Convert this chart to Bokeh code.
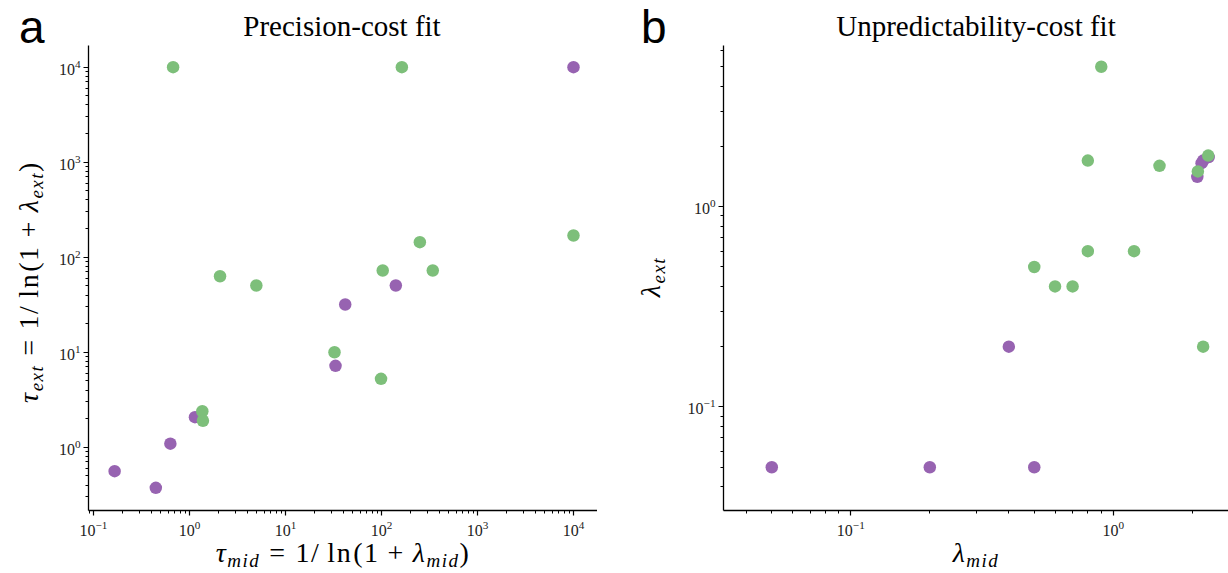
from bokeh.plotting import figure
from bokeh.models import Range1d, FixedTicker, Div
from bokeh.layouts import row, column
from bokeh.embed import file_html
from bokeh.resources import INLINE

# ---------------- data ----------------
# Panel a: precision-cost fit (tau values)
purple_tau_mid = [0.166, 0.446, 0.632, 1.14, 33.2, 41.9, 141, 10000]
purple_tau_ext = [0.56, 0.374, 1.09, 2.07, 7.19, 31.8, 50.4, 10000]
green_tau_mid = [0.675, 163, 1.36, 1.38, 2.08, 4.97, 32.4, 98.9, 103, 251, 342, 10000]
green_tau_ext = [10000, 10000, 2.39, 1.90, 63, 50.4, 10.0, 5.25, 72.4, 144, 72.4, 169]

# Panel b: unpredictability-cost fit (lambda values)
purple_lam_mid = [0.05, 0.2, 0.5, 0.4, 2.09, 2.17, 2.2, 2.31]
purple_lam_ext = [0.05, 0.05, 0.05, 0.2, 1.41, 1.65, 1.7, 1.77]
green_lam_mid = [0.9, 0.8, 1.5, 2.1, 2.3, 0.8, 1.2, 0.5, 0.6, 0.7, 2.2]
green_lam_ext = [5.0, 1.7, 1.6, 1.5, 1.8, 0.6, 0.6, 0.5, 0.4, 0.4, 0.2]

a_x_ticks = [0.1, 1, 10, 100, 1000, 10000]
a_y_ticks = [1, 10, 100, 1000, 10000]
b_ticks = [0.1, 1]

titles = ["Precision-cost fit", "Unpredictability-cost fit"]
panel_letters = ["a", "b"]

PURPLE = "#9763b1"
GREEN = "#7dbf7a"

H = 573
TOP_H = 45
FRAME_H = 465
BOTTOM_B = 33
FIG_H = FRAME_H + BOTTOM_B
LOWER_H = H - TOP_H - FIG_H
SERIF = "Liberation Serif"
SER_R = 0.8375    # Liberation Serif baseline (em) in a line-height:1 box
SANS_R = 0.8465   # Liberation Sans baseline (em) in a line-height:1 box
MAIN, SUB = 28, 19

LEFT_A_W = 50
FIG_A_W = 38 + 509
LEFT_B_W = 678 - (LEFT_A_W + FIG_A_W)
FIG_B_W = 45 + 505
XA0 = LEFT_A_W
XLB0 = LEFT_A_W + FIG_A_W
XB0 = XLB0 + LEFT_B_W


def minor_list(lo_exp, hi_exp):
    out = []
    for e in range(lo_exp, hi_exp + 1):
        for k in range(2, 10):
            out.append(k * 10.0 ** e)
    return out


def style_axes(p):
    p.outline_line_color = None
    p.xgrid.visible = False
    p.ygrid.visible = False
    p.background_fill_color = "white"
    p.border_fill_color = "white"
    for ax in p.axis:
        ax.axis_line_color = "black"
        ax.axis_line_width = 1.3
        ax.major_tick_line_color = "black"
        ax.major_tick_line_width = 1.2
        ax.minor_tick_line_color = "black"
        ax.minor_tick_line_width = 1.0
        ax.major_tick_in = 0
        ax.major_tick_out = 5
        ax.minor_tick_in = 0
        ax.minor_tick_out = 3
        ax.major_label_text_font = SERIF
        ax.major_label_text_font_size = "16px"
        ax.major_label_text_color = "#222222"
    p.xaxis.major_label_standoff = 5
    p.yaxis.major_label_standoff = 3


def piece(html, x, baseline, size, italic=False, font=SERIF, ratio=SER_R,
          center=False, extra=""):
    top = baseline - ratio * size
    st = "italic" if italic else "normal"
    tr = "transform:translateX(-50%);" if center else ""
    return (f'<span style="position:absolute;left:{x:.1f}px;top:{top:.1f}px;'
            f"font-family:'{font}';font-size:{size}px;font-style:{st};"
            f'line-height:1;white-space:nowrap;color:#000;{tr}{extra}">{html}</span>')


def box(w, h, inner):
    return f'<div style="position:relative;width:{w}px;height:{h}px;">{inner}</div>'


def rotated(w, h, inner):
    # child coords: x = distance upward from the bottom edge, y = distance from left edge
    return (f'<div style="position:absolute;left:0;top:0;width:{h}px;height:{w}px;'
            f'transform-origin:0 0;transform:translate(0px,{h}px) rotate(-90deg);">'
            f'{inner}</div>')


def mk_div(html, w, h):
    return Div(text=html, width=w, height=h, margin=(0, 0, 0, 0))


def it(s):
    return f'<span style="font-style:italic;">{s}</span>'


def sub(s):
    return (f'<span style="font-size:{SUB}px;font-style:italic;position:relative;'
            f'top:5px;">{s}</span>')


def sp(px):
    return f'<span style="display:inline-block;width:{px}px;height:0;"></span>'


def var(sym, s):
    return it(sym) + sub(s)


def tau_label(s):
    return (var("\u03c4", s) + sp(9) + "=" + sp(9) + "1/" + sp(7) + "ln" + sp(1)
            + "(1" + sp(8) + "+" + sp(8) + var("\u03bb", s) + ")")


LS = "letter-spacing:1.5px;"

# ---------------- panel a ----------------
pa = figure(frame_width=509, frame_height=FRAME_H,
            x_axis_type="log", y_axis_type="log",
            x_range=Range1d(10 ** -1.052, 10 ** 4.25),
            y_range=Range1d(10 ** -0.666, 10 ** 4.228),
            min_border_left=38, min_border_right=0,
            min_border_top=0, min_border_bottom=BOTTOM_B,
            toolbar_location=None, output_backend="svg", title=None,
            title_location=None)
pa.xaxis.ticker = FixedTicker(ticks=a_x_ticks, minor_ticks=minor_list(-2, 4))
pa.yaxis.ticker = FixedTicker(ticks=a_y_ticks, minor_ticks=minor_list(-1, 4))
style_axes(pa)
pa.scatter(purple_tau_mid, purple_tau_ext, size=12.5, fill_color=PURPLE, line_color=None)
pa.scatter(green_tau_mid, green_tau_ext, size=12.5, fill_color=GREEN, line_color=None)

# ---------------- panel b ----------------
pb = figure(frame_width=505, frame_height=FRAME_H,
            x_axis_type="log", y_axis_type="log",
            x_range=Range1d(10 ** -1.485, 10 ** 0.439),
            y_range=Range1d(10 ** -1.517, 10 ** 0.805),
            min_border_left=45, min_border_right=0,
            min_border_top=0, min_border_bottom=BOTTOM_B,
            toolbar_location=None, output_backend="svg", title=None,
            title_location=None)
pb.xaxis.ticker = FixedTicker(ticks=b_ticks, minor_ticks=minor_list(-2, 0))
pb.yaxis.ticker = FixedTicker(ticks=b_ticks, minor_ticks=minor_list(-2, 0))
style_axes(pb)
pb.scatter(purple_lam_mid, purple_lam_ext, size=12.5, fill_color=PURPLE, line_color=None)
pb.scatter(green_lam_mid, green_lam_ext, size=12.5, fill_color=GREEN, line_color=None)

# ---------------- texts (HTML, real text) ----------------
left_a_html = box(LEFT_A_W, H,
                  piece(panel_letters[0], 19, 43, 46, font="Liberation Sans", ratio=SANS_R)
                  + rotated(LEFT_A_W, H,
                            piece(tau_label("ext"), H - 282, 38, MAIN, center=True, extra=LS)))

left_b_html = box(LEFT_B_W, H,
                  piece(panel_letters[1], 641 - XLB0, 43, 46, font="Liberation Sans", ratio=SANS_R)
                  + rotated(LEFT_B_W, H,
                            piece(var("\u03bb", "ext"), H - 277, 660 - XLB0, MAIN,
                                  center=True, extra=LS)))

title_a_html = box(FIG_A_W, TOP_H, piece(titles[0], 342 - XA0, 36, 29, center=True))
title_b_html = box(FIG_B_W, TOP_H, piece(titles[1], 976 - XB0, 36, 29, center=True))

oy = TOP_H + FIG_H
XBL = 562 - oy
xlab_a_html = box(FIG_A_W, LOWER_H,
                  piece(tau_label("mid"), 343 - XA0, XBL, MAIN, center=True, extra=LS))
xlab_b_html = box(FIG_B_W, LOWER_H,
                  piece(var("\u03bb", "mid"), 976 - XB0, XBL, MAIN, center=True, extra=LS))

col_a = column(mk_div(title_a_html, FIG_A_W, TOP_H), pa,
               mk_div(xlab_a_html, FIG_A_W, LOWER_H), spacing=0)
col_b = column(mk_div(title_b_html, FIG_B_W, TOP_H), pb,
               mk_div(xlab_b_html, FIG_B_W, LOWER_H), spacing=0)

layout = row(mk_div(left_a_html, LEFT_A_W, H), col_a,
             mk_div(left_b_html, LEFT_B_W, H), col_b, spacing=0)
open("out.html", "w").write(file_html(layout, INLINE))
